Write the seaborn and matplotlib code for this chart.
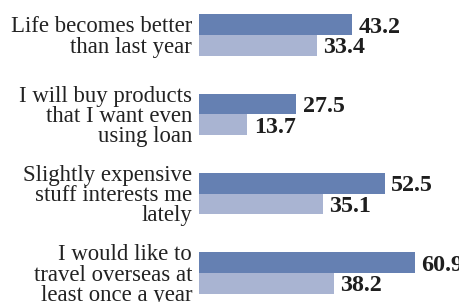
import pandas as pd
import matplotlib
matplotlib.use("Agg")
import matplotlib.pyplot as plt
import seaborn as sns

# Data
categories = [
    "Life becomes better\nthan last year",
    "I will buy products\nthat I want even\nusing loan",
    "Slightly expensive\nstuff interests me\nlately",
    "I would like to\ntravel overseas at\nleast once a year",
]
series_names = ["Group 1", "Group 2"]
values_1 = [43.2, 27.5, 52.5, 60.9]
values_2 = [33.4, 13.7, 35.1, 38.2]
colors = ["#6580b2", "#a9b4d2"]

df = pd.DataFrame({
    "item": categories * 2,
    "series": [series_names[0]] * 4 + [series_names[1]] * 4,
    "value": values_1 + values_2,
})

sns.set_style("white")
plt.rcParams['font.family'] = ['Liberation Serif', 'DejaVu Serif']

fig = plt.figure(figsize=(4.6, 3.02), dpi=100)
ax = fig.add_axes([199 / 460, 0, 261 / 460, 1])

sns.barplot(data=df, y="item", x="value", hue="series", orient="h",
            palette=colors, width=0.52, gap=0, saturation=1,
            linewidth=0, legend=False, ax=ax)

for cont in ax.containers:
    texts = ax.bar_label(cont, fmt="%.1f", padding=4.5, fontsize=17.3,
                         fontweight="bold", color="#1e1e1e")
    for t in texts:
        t.set_va("center_baseline")

ax.set_xlim(0, 261 / 3.54)
ax.set_ylim(3.366, -0.441)
ax.set_xlabel("")
ax.set_ylabel("")
ax.set_xticks([])
ax.tick_params(axis="y", length=0, pad=5, labelsize=16.4, labelcolor="#222222")
for lab in ax.get_yticklabels():
    lab.set_linespacing(0.95)
    lab.set_multialignment("right")
for s in ax.spines.values():
    s.set_visible(False)

fig.savefig("out.png", dpi=100)
